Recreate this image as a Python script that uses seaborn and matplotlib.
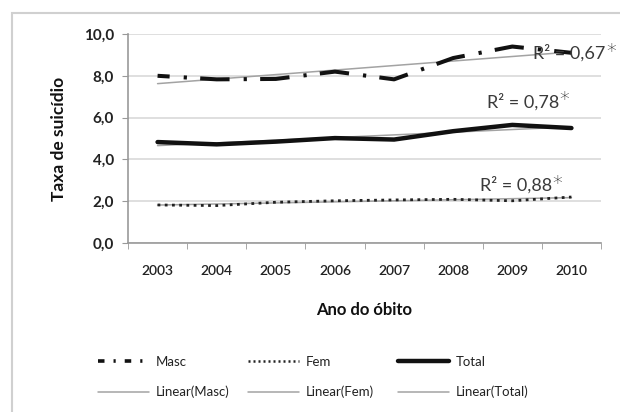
import numpy as np
import pandas as pd
import matplotlib
matplotlib.use("Agg")
import matplotlib.pyplot as plt
from matplotlib.lines import Line2D
from matplotlib.patches import Rectangle
import seaborn as sns

sns.set_style("white")
plt.rcParams["font.family"] = ["Lato", "DejaVu Sans"]

years = ["2003", "2004", "2005", "2006", "2007", "2008", "2009", "2010"]
masc = [8.0, 7.83, 7.85, 8.2, 7.83, 8.85, 9.4, 9.1]
fem = [1.82, 1.79, 1.95, 2.02, 2.06, 2.09, 2.02, 2.2]
total = [4.83, 4.72, 4.85, 5.02, 4.95, 5.35, 5.65, 5.5]
r2_labels = ["R² = 0,67", "R² = 0,78", "R² = 0,88"]
y_ticks = [0, 2, 4, 6, 8, 10]

df = pd.DataFrame({"ano": np.arange(len(years)), "Masc": masc, "Fem": fem, "Total": total})

W, H = 620, 412
fig = plt.figure(figsize=(W / 100, H / 100), dpi=100)
# outer chart border
fig.patches.append(Rectangle((12 / W, -0.1), 1.2, 1 - 13 / H + 0.1, transform=fig.transFigure,
                             fill=False, edgecolor="#d0d0d0", lw=1.5))
ax = fig.add_axes([128 / W, 1 - 243 / H, (601 - 128) / W, (243 - 34) / H])

masc_style = dict(color="#111111", lw=2.9, linestyle=(4.3, (7.3, 3.5, 0.8, 3.3)))
fem_style = dict(color="#222222", lw=2.0, linestyle=(0, (1.0, 1.6)))
total_style = dict(color="#111111", lw=3.2)
trend_style = dict(color="#a3a3a3", lw=1.1)

# linear trend lines
for col in ["Masc", "Fem", "Total"]:
    sns.regplot(data=df, x="ano", y=col, ax=ax, scatter=False, ci=None, truncate=True,
                line_kws=dict(zorder=2, **trend_style))

sns.lineplot(data=df, x="ano", y="Masc", ax=ax, zorder=3, **masc_style)
sns.lineplot(data=df, x="ano", y="Fem", ax=ax, zorder=3, **fem_style)
sns.lineplot(data=df, x="ano", y="Total", ax=ax, zorder=3, **total_style)

ax.set_xlim(-0.5, 7.5)
ax.set_ylim(0, 10)
ax.set_yticks(y_ticks)
ax.set_yticklabels([f"{v:.1f}".replace(".", ",") for v in y_ticks], fontsize=11, fontweight="bold",
                   color="#222222")
ax.set_xticks(np.arange(len(years)))
ax.set_xticklabels(years, fontsize=10, fontweight="semibold", color="#222222")
ax.set_xticks(np.arange(len(years) + 1) - 0.5, minor=True)
ax.tick_params(axis="x", which="major", length=0, pad=16)
ax.tick_params(axis="x", which="minor", length=4, color="#999999", direction="out", bottom=True)
ax.tick_params(axis="y", length=4, color="#999999", direction="out", left=True, pad=6)
ax.grid(axis="y", color="#d9d9d9", lw=1.2)
ax.set_axisbelow(True)
for s in ["top", "right"]:
    ax.spines[s].set_visible(False)
for s in ["left", "bottom"]:
    ax.spines[s].set_color("#999999")
    ax.spines[s].set_linewidth(1.2)

ax.set_xlabel("Ano do óbito", fontsize=12, fontweight="bold", labelpad=18, color="#111111")
ax.set_ylabel("Taxa de suicídio", fontsize=12.5, fontweight="bold", labelpad=12, color="#111111")

# R² annotations with significance marks
r2_pos = [(533, 53), (487, 102), (480, 185)]
fig.canvas.draw()
for (px, py), lab in zip(r2_pos, r2_labels):
    t = fig.text(px / W, 1 - py / H, lab, fontsize=13, color="#3a3a3a", va="center", ha="left")
    fig.canvas.draw()
    bb = t.get_window_extent()
    fig.text((bb.x1 + 0.5) / W, 1 - (py - 2) / H, "*", fontsize=14, color="#333333",
             va="center", ha="left", family="DejaVu Sans", fontweight="light")

# legend, one column at a time
leg_cols = [
    ([Line2D([], [], color="#111111", lw=2.6, linestyle=(0, (1.8, 2.5, 0.6, 2.5))),
      Line2D([], [], **trend_style)], ["Masc", "Linear(Masc)"], 98),
    ([Line2D([], [], color="#222222", lw=1.8, linestyle=(0, (0.8, 1.2))),
      Line2D([], [], **trend_style)], ["Fem", "Linear(Fem)"], 248),
    ([Line2D([], [], **total_style), Line2D([], [], **trend_style)],
     ["Total", "Linear(Total)"], 398),
]
for hs, ls, x0 in leg_cols:
    leg = fig.legend(hs, ls, loc="upper left", bbox_to_anchor=(x0 / W, 1 - 356 / H),
                     frameon=False, fontsize=9.5, handlelength=3.9, handletextpad=0.5,
                     labelspacing=1.35, borderpad=0, borderaxespad=0)
    for txt in leg.get_texts():
        txt.set_color("#222222")

fig.savefig("out.png", dpi=100)
